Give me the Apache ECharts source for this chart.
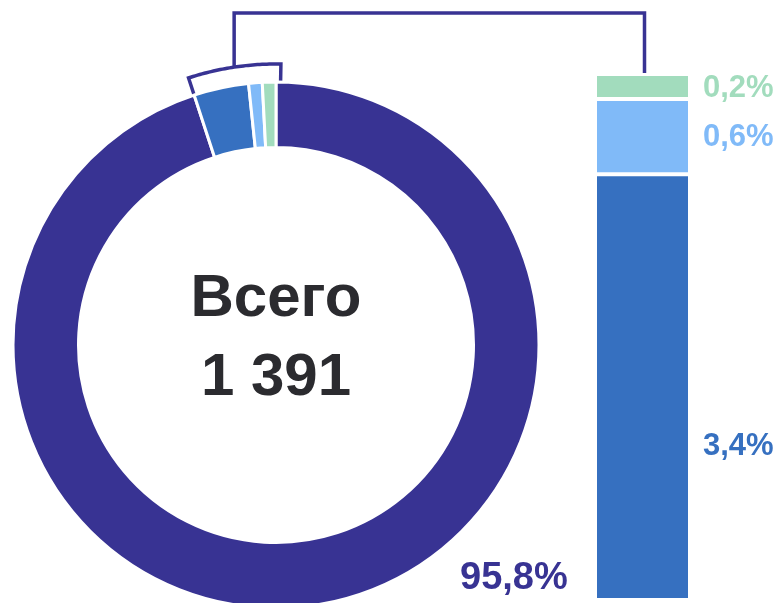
<!DOCTYPE html>
<html><head><meta charset="utf-8">
<script src="https://cdn.jsdelivr.net/npm/echarts@6/dist/echarts.min.js"></script>
<style>html,body{margin:0;padding:0;background:#fff}#c{width:780px;height:603px}</style>
</head><body><div id="c"></div>
<script>
// ---- data ----
const categories = ['cat1', 'cat2', 'cat3', 'cat4'];
const shares = [95.8, 3.4, 0.6, 0.2];          // % of total
const detailIdx = [1, 2, 3];                   // slices broken out into the bar
const centerLines = ['Всего', '1 391'];
const colors = ['#383393', '#3670c0', '#80baf8', '#a2dcbd'];

const fmt = v => v.toFixed(1).replace('.', ',') + '%';
const detailSum = Math.round(detailIdx.reduce((s, i) => s + shares[i], 0) * 10) / 10;
const FONT = '"Liberation Sans", Arial, sans-serif';
const labelOffsets = { 1: [0, 59], 2: [0, 1], 3: [0, 2] };

const chart = echarts.init(document.getElementById('c'), null, { renderer: 'canvas' });
const CX = 276, CY = 345, R0 = 197.5, R1 = 263;

const option = {
  animation: false,
  backgroundColor: '#fff',
  grid: { left: 595, top: 74, width: 95, height: 526 },
  xAxis: { type: 'category', data: ['detail'], show: false },
  yAxis: { type: 'value', min: 0, max: detailSum, show: false },
  series: [
    {
      type: 'pie', center: [CX, CY], radius: [R0, R1], startAngle: 90, clockwise: true,
      minAngle: 3, silent: true,
      label: { show: false }, labelLine: { show: false },
      itemStyle: { borderColor: '#fff', borderWidth: 3 },
      data: shares.map((v, i) => ({ name: categories[i], value: v, itemStyle: { color: colors[i] } }))
    },
    ...detailIdx.map(i => ({
      type: 'bar', stack: 'detail', barWidth: 95, silent: true,
      data: [shares[i]],
      itemStyle: { color: colors[i], borderColor: '#fff', borderWidth: 2 },
      label: {
        show: true, position: 'right', distance: 13, offset: labelOffsets[i],
        formatter: fmt(shares[i]), color: colors[i],
        fontSize: 31, fontWeight: 'bold', fontFamily: FONT
      }
    }))
  ]
};
chart.setOption(option);

// ---- annotations: center text, main label, bracket + connector ----
const graphics = [];
centerLines.forEach((t, k) => {
  graphics.push({
    type: 'text', x: CX, y: 299 + k * 79, silent: true,
    style: { text: t, textAlign: 'center', textVerticalAlign: 'middle',
             font: 'bold 60px ' + FONT, fill: '#2b2b2f' }
  });
});
graphics.push({
  type: 'text', x: 460, y: 579, silent: true,
  style: { text: fmt(shares[0]), textAlign: 'left', textVerticalAlign: 'middle',
           font: 'bold 38px ' + FONT, fill: colors[0] }
});

let aL, aR;
try {
  const d = chart.getModel().getSeriesByIndex(0).getData();
  aL = d.getItemLayout(detailIdx[0]).startAngle;
  aR = d.getItemLayout(detailIdx[detailIdx.length - 1]).endAngle;
} catch (e) {
  aR = 1.5 * Math.PI; aL = aR - 18 * Math.PI / 180;
}
const deg = Math.PI / 180;
aR += 1 * deg;
const RB = 281;
const pt = (a, r) => [CX + r * Math.cos(a), CY + r * Math.sin(a)];
const bracket = [pt(aL, R1)];
for (let s = 0; s <= 40; s++) bracket.push(pt(aL + (aR - aL) * s / 40, RB));
bracket.push(pt(aR, R1 - 3));
graphics.push({
  type: 'polyline', silent: true,
  shape: { points: bracket },
  style: { stroke: colors[0], lineWidth: 3.5, fill: null, lineJoin: 'miter' }
});
const aM = (aL + aR) / 2;
const pM = pt(aM, RB);
const barTop = chart.convertToPixel({ gridIndex: 0 }, ['detail', detailSum]);
graphics.push({
  type: 'polyline', silent: true,
  shape: { points: [pM, [pM[0], 13], [barTop[0] + 2, 13], [barTop[0] + 2, barTop[1] - 1]] },
  style: { stroke: colors[0], lineWidth: 3.5, fill: null, lineJoin: 'miter' }
});
chart.setOption({ graphic: graphics });
</script>
</body></html>
